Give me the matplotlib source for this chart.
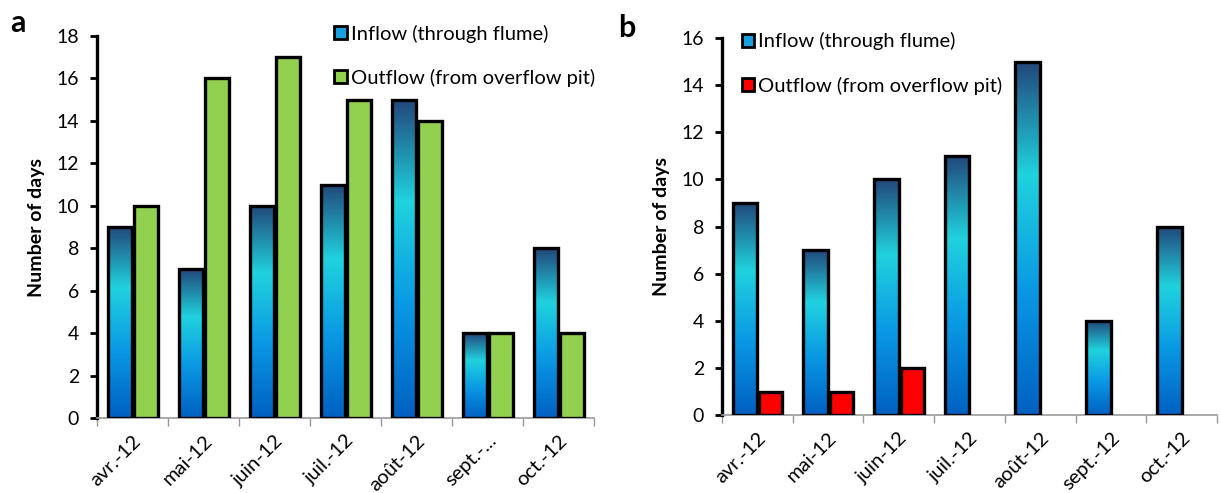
import numpy as np
import matplotlib.pyplot as plt
from matplotlib.colors import LinearSegmentedColormap
from matplotlib.patches import Patch

months_a = ["avr.-12", "mai-12", "juin-12", "juil.-12", "août-12", "sept.-...", "oct.-12"]
months_b = ["avr.-12", "mai-12", "juin-12", "juil.-12", "août-12", "sept.-12", "oct.-12"]
inflow_a = [9, 7, 10, 11, 15, 4, 8]
outflow_a = [10, 16, 17, 15, 14, 4, 4]
inflow_b = [9, 7, 10, 11, 15, 4, 8]
outflow_b = [1, 1, 2, 0, 0, 0, 0]

plt.rcParams['font.family'] = ['Lato', 'DejaVu Sans']

# bottom -> top of each bar
blue_grad = LinearSegmentedColormap.from_list(
    "bluegrad", [(0.0, "#0060c2"), (0.35, "#0a98e4"), (0.68, "#20d2de"), (1.0, "#22477a")])


def gradient_bars(ax, x, heights, width):
    bars = ax.bar(x, heights, width, align="edge", facecolor="none",
                  edgecolor="black", lw=2.4, zorder=3)
    grad = np.linspace(0, 1, 256).reshape(-1, 1)
    for b in bars:
        x0, w, h = b.get_x(), b.get_width(), b.get_height()
        if h <= 0:
            continue
        ax.imshow(grad, cmap=blue_grad, origin="lower", aspect="auto",
                  extent=[x0, x0 + w, 0, h], zorder=2, interpolation="bilinear")
    return bars


def style_axes(ax, labels, ymax, ystep):
    n = len(labels)
    ax.set_xlim(-0.5, n - 0.5)
    ax.set_ylim(0, ymax)
    ax.set_yticks(np.arange(0, ymax + 0.1, ystep))
    ax.set_xticks(np.arange(n + 1) - 0.5)
    ax.set_xticklabels([])
    ax.set_xticks(np.arange(n), minor=True)
    ax.set_xticklabels(labels, minor=True, rotation=45, ha="right", rotation_mode="anchor",
                       fontsize=14.5)
    ax.tick_params(axis="x", which="major", length=6, width=1, color="#999999", direction="out")
    ax.tick_params(axis="x", which="minor", length=0, pad=10)
    ax.tick_params(axis="y", length=5, width=2, labelsize=14, pad=8)
    for s in ["top", "right"]:
        ax.spines[s].set_visible(False)
    ax.spines["left"].set_linewidth(2.4)
    ax.spines["bottom"].set_color("#999999")
    ax.spines["bottom"].set_linewidth(1.2)
    ax.set_ylabel("Number of days", fontsize=14, fontweight="bold", labelpad=8)


fig = plt.figure(figsize=(12.21, 4.93), dpi=100)
ax1 = fig.add_axes([0.0794, 0.152, 0.407, 0.775])
ax2 = fig.add_axes([0.5913, 0.158, 0.4054, 0.765])

w = 0.35
x = np.arange(len(months_a))
gradient_bars(ax1, x - w, inflow_a, w)
ax1.bar(x + 0.025, outflow_a, w - 0.02, align="edge", color="#92d050",
        edgecolor="black", lw=2.4, zorder=3)
style_axes(ax1, months_a, 18, 2)

xb = np.arange(len(months_b))
gradient_bars(ax2, xb - w, inflow_b, w)
out_b = np.array(outflow_b, dtype=float)
out_b[out_b == 0] = np.nan
ax2.bar(xb + 0.03, out_b, w - 0.03, align="edge", color="#ff0000",
        edgecolor="black", lw=2.4, zorder=3)
style_axes(ax2, months_b, 16, 2)

leg_kw = dict(frameon=False, fontsize=14.5, handlelength=0.6, handleheight=0.6,
              handletextpad=0.2, labelspacing=1.3, borderaxespad=0, borderpad=0)
ax1.legend(handles=[Patch(facecolor="#1a9fe0", edgecolor="black", lw=2, label="Inflow (through flume)"),
                    Patch(facecolor="#92d050", edgecolor="black", lw=2, label="Outflow (from overflow pit)")],
           loc="upper left", bbox_to_anchor=(0.478, 1.03), **leg_kw)
ax2.legend(handles=[Patch(facecolor="#1a9fe0", edgecolor="black", lw=2, label="Inflow (through flume)"),
                    Patch(facecolor="#ff0000", edgecolor="black", lw=2, label="Outflow (from overflow pit)")],
           loc="upper left", bbox_to_anchor=(0.04, 1.015), **leg_kw)

fig.text(0.008, 0.935, "a", fontsize=22, fontweight="bold")
fig.text(0.506, 0.925, "b", fontsize=22, fontweight="bold")

fig.savefig("out.png", dpi=100)
